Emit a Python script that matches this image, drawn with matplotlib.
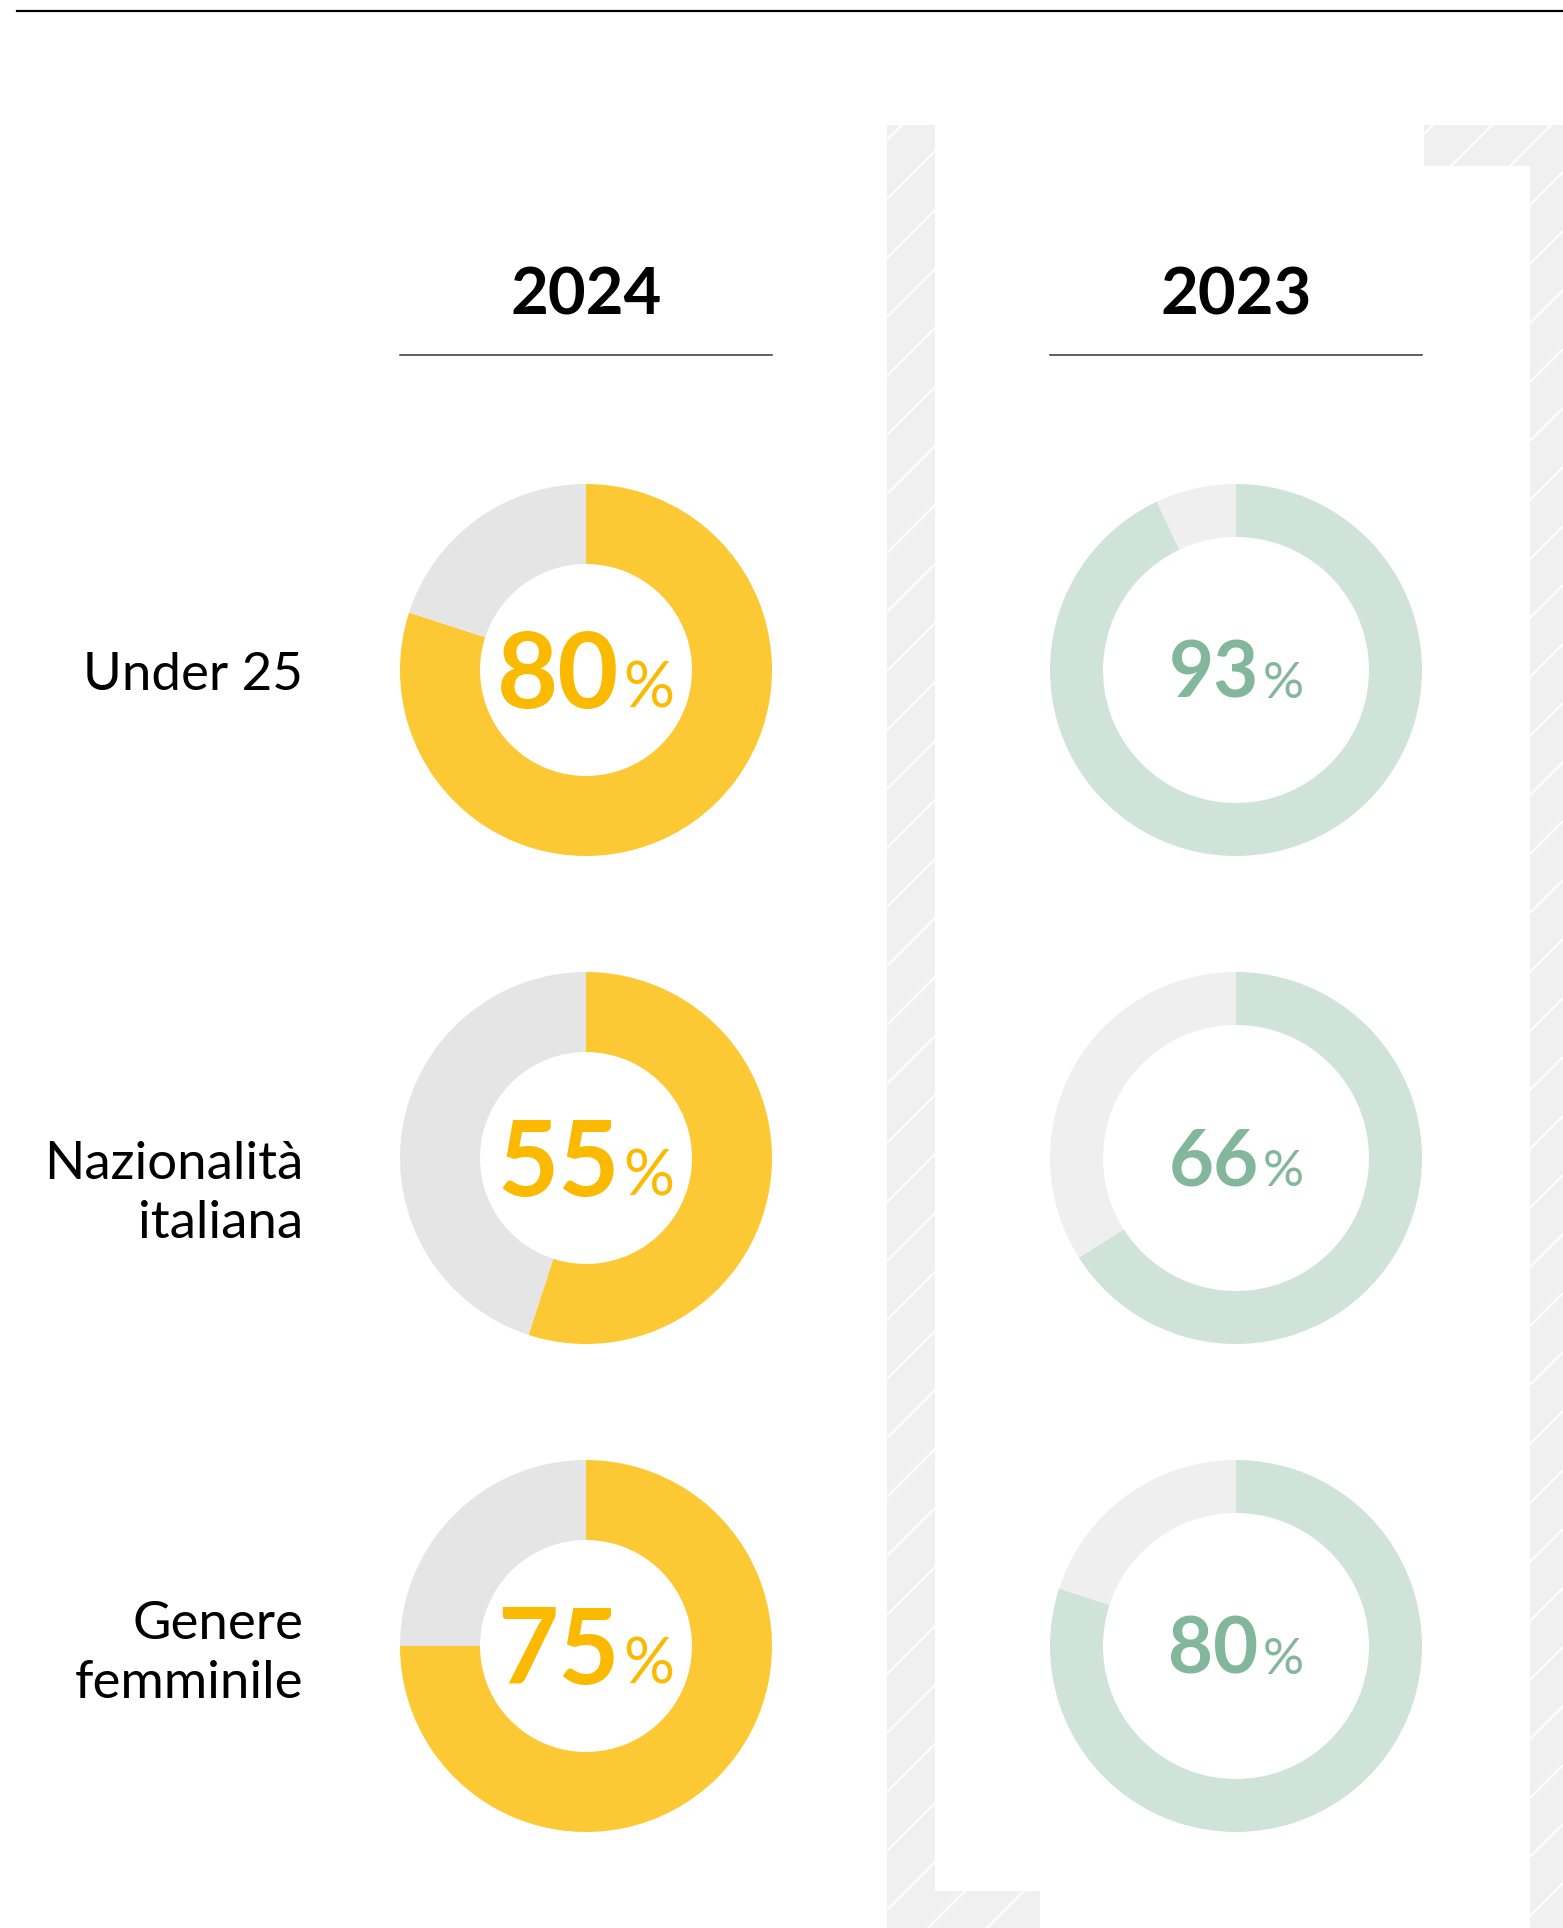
import matplotlib
matplotlib.use("Agg")
import matplotlib.pyplot as plt
from matplotlib.patches import Wedge, Rectangle, Polygon
import numpy as np

plt.rcParams['font.family'] = ['Lato', 'DejaVu Sans']

# data
years = ["2024", "2023"]
categories = ["Under 25", "Nazionalità\nitaliana", "Genere\nfemminile"]
vals_2024 = [80, 55, 75]
vals_2023 = [93, 66, 80]

W, H = 1563, 1928
fig = plt.figure(figsize=(W / 100, H / 100), dpi=100)
ax = fig.add_axes([0, 0, 1, 1])
ax.set_xlim(0, W)
ax.set_ylim(H, 0)
ax.axis('off')

# hatched background panel
ax.add_patch(Rectangle((887, 125), W - 887, H - 125, color='#f0f0f0', lw=0, zorder=0))
gap = 59
for c in np.arange(140 - 30 * gap, H + 2 * W, gap):
    xs = np.array([887, W])
    ys = c - (xs - 887)
    ax.plot(xs, ys, color='white', lw=1.5, zorder=1, solid_capstyle='butt')
# white card on top
card = [(935, 125), (1424, 125), (1424, 166), (1530, 166), (1530, H + 5),
        (1040, H + 5), (1040, 1891), (935, 1891)]
ax.add_patch(Polygon(card, closed=True, color='white', lw=0, zorder=2))
# mask hatch lines outside the grey panel
ax.add_patch(Rectangle((0, 0), 887, H, color='white', lw=0, zorder=2))
ax.add_patch(Rectangle((887, 0), W - 887, 125, color='white', lw=0, zorder=2))

# top rule
ax.plot([17, W], [11, 11], color='black', lw=1.6, zorder=3)

col_x = [586, 1236]
row_y = [670, 1158, 1646]
label_y = [675, 1194, 1654]
r_out = 186
r_in = [106, 133]
ring_col = ['#fcc934', '#cfe3d8']
rest_col = ['#e5e5e5', '#efefef']
txt_col = ['#fbba00', '#82b79b']
num_size = [76, 56]
pct_size = [46, 37]

# headers
for j, yr in enumerate(years):
    ax.text(col_x[j], 296, yr, ha='center', va='center', fontsize=47,
            fontweight='bold', color='black', zorder=4)
    ax.plot([col_x[j] - 186, col_x[j] + 186], [355, 355], color='#333333', lw=1.1, zorder=4)

# row labels
for i, lab in enumerate(categories):
    ax.text(303, label_y[i], lab, ha='right', va='center', fontsize=38,
            fontweight='normal', color='black', linespacing=1.34, zorder=4)

renderer = fig.canvas.get_renderer()
for j, vals in enumerate([vals_2024, vals_2023]):
    for i, v in enumerate(vals):
        cx, cy = col_x[j], row_y[i]
        w = r_out - r_in[j]
        end = -90 + 360 * v / 100
        ax.add_patch(Wedge((cx, cy), r_out, -90, end, width=w, color=ring_col[j], lw=0, zorder=3))
        ax.add_patch(Wedge((cx, cy), r_out, end, 270, width=w, color=rest_col[j], lw=0, zorder=3))
        base = cy + (38 if j == 0 else 28)
        t1 = ax.text(0, base, str(v), ha='left', va='baseline', fontsize=num_size[j],
                     fontweight='bold', color=txt_col[j], zorder=5)
        t2 = ax.text(0, base, '%', ha='left', va='baseline', fontsize=pct_size[j],
                     fontweight='normal', color=txt_col[j], zorder=5)
        w1 = t1.get_window_extent(renderer).width
        w2 = t2.get_window_extent(renderer).width
        gap_px = 4
        x0 = cx - (w1 + gap_px + w2) / 2
        t1.set_x(x0)
        t2.set_x(x0 + w1 + gap_px)

fig.savefig('out.png', dpi=100)
